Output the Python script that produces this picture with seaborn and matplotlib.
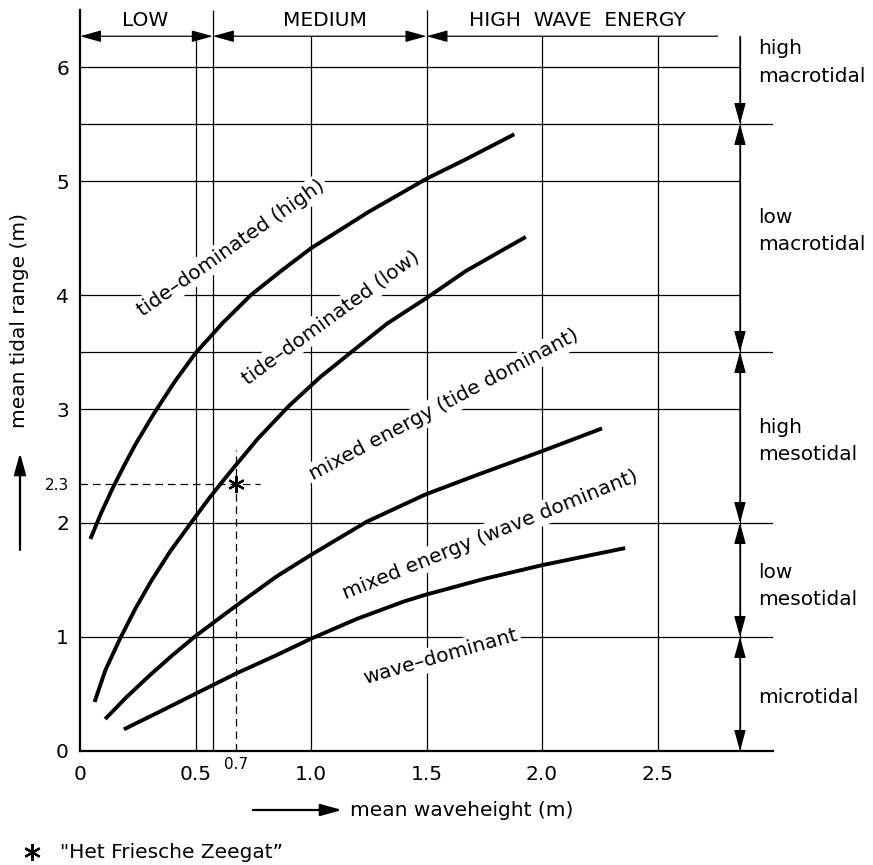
import matplotlib
matplotlib.use("Agg")
import matplotlib.pyplot as plt
import numpy as np
import pandas as pd
import seaborn as sns

# ---------------- data ----------------
td_high_x = [0.045, 0.09, 0.14, 0.19, 0.24, 0.32, 0.41, 0.50, 0.62, 0.74, 0.87, 1.00, 1.25, 1.50, 1.67, 1.88]
td_high_y = [1.86, 2.08, 2.30, 2.50, 2.69, 2.96, 3.24, 3.49, 3.76, 4.00, 4.21, 4.41, 4.73, 5.02, 5.19, 5.41]

td_low_x = [0.063, 0.11, 0.172, 0.24, 0.308, 0.39, 0.48, 0.56, 0.643, 0.77, 0.906, 1.04, 1.175, 1.33, 1.505, 1.67, 1.93]
td_low_y = [0.43, 0.71, 0.98, 1.25, 1.49, 1.75, 2.00, 2.22, 2.43, 2.74, 3.03, 3.28, 3.50, 3.75, 3.98, 4.21, 4.51]

mixed_x = [0.109, 0.20, 0.30, 0.40, 0.495, 0.60, 0.70, 0.85, 1.00, 1.24, 1.495, 1.73, 2.00, 2.26]
mixed_y = [0.28, 0.47, 0.66, 0.84, 1.00, 1.16, 1.31, 1.53, 1.72, 2.01, 2.25, 2.43, 2.63, 2.83]

wave_x = [0.19, 0.35, 0.498, 0.676, 0.85, 1.00, 1.20, 1.40, 1.495, 1.75, 2.00, 2.36]
wave_y = [0.19, 0.35, 0.50, 0.68, 0.84, 0.985, 1.16, 1.31, 1.37, 1.51, 1.63, 1.78]

curve_names = ["td_high", "td_low", "mixed", "wave"]

# region labels: text, centre x, centre y, angle
region_texts = ["tide\u2013dominated (high)", "tide\u2013dominated (low)",
                "mixed energy (tide dominant)", "mixed energy (wave dominant)",
                "wave\u2013dominant"]
region_x = [0.655, 1.087, 1.577, 1.774, 1.56]
region_y = [4.415, 3.805, 3.035, 1.90, 0.825]
region_angle = [35, 36, 28, 22, 16]

# wave-energy classes (top)
energy_bounds = [0.0, 0.575, 1.5, 2.76]
energy_labels = ["LOW", "MEDIUM", "HIGH  WAVE  ENERGY"]
energy_label_x = [0.28, 1.06, 2.154]

# tidal classes (right)
tidal_bounds = [0.0, 1.0, 2.0, 3.5, 5.5, 6.27]
tidal_labels = ["microtidal", "low\nmesotidal", "high\nmesotidal", "low\nmacrotidal", "high\nmacrotidal"]
tidal_label_y = [0.47, 1.45, 2.72, 4.56, 6.04]

# Het Friesche Zeegat
star_x = 0.676
star_y = 2.34
star_x_label = "0.7"
star_y_label = "2.3"

x_ticks = [0, 0.5, 1.0, 1.5, 2.0, 2.5]
x_tick_labels = ["0", "0.5", "1.0", "1.5", "2.0", "2.5"]
y_ticks = [0, 1, 2, 3, 4, 5, 6]
y_tick_labels = ["0", "1", "2", "3", "4", "5", "6"]
plain_grid_x = [0.5, 1.0, 2.0, 2.5]
plain_grid_y = [3, 4, 5, 6]

# ---------------- figure ----------------
sns.set_theme(style="white")
plt.rcParams["font.family"] = ["DejaVu Sans"]
plt.rcParams["text.color"] = "black"

FS = 14.5
W, H = 873, 865
fig = plt.figure(figsize=(W / 100, H / 100), dpi=100)
ax = fig.add_axes([80 / W, 114 / H, 693 / W, 741 / H])
ax.set_xlim(0, 3.0)
ax.set_ylim(0, 6.5)

top_line_y = tidal_bounds[-1]
col_x = 2.857
grid_lw = 0.9
k = "black"

# grid lines
ax.vlines(plain_grid_x, 0, top_line_y, color=k, lw=grid_lw, zorder=1)
ax.vlines(energy_bounds[1:3], 0, 6.5, color=k, lw=grid_lw, zorder=1)
ax.hlines(plain_grid_y, 0, col_x, color=k, lw=grid_lw, zorder=1)
ax.hlines(tidal_bounds[1:5], 0, 3.0, color=k, lw=grid_lw, zorder=1)
ax.vlines([col_x], 0, top_line_y, color=k, lw=grid_lw, zorder=1)

arrow_kw = dict(arrowstyle="<|-|>,head_length=1.3,head_width=0.36", mutation_scale=10,
                color=k, lw=grid_lw, shrinkA=0, shrinkB=0)
single_kw = dict(arrowstyle="-|>,head_length=1.3,head_width=0.36", mutation_scale=10,
                 color=k, lw=grid_lw, shrinkA=0, shrinkB=0)

# top energy arrows
for i in range(2):
    ax.annotate("", xy=(energy_bounds[i], top_line_y), xytext=(energy_bounds[i + 1], top_line_y),
                arrowprops=arrow_kw, zorder=2)
ax.annotate("", xy=(energy_bounds[2], top_line_y), xytext=(energy_bounds[3], top_line_y),
            arrowprops=single_kw, zorder=2)
for lab, lx in zip(energy_labels, energy_label_x):
    ax.text(lx, 6.41, lab, ha="center", va="center", fontsize=FS, clip_on=False)

# right tidal arrows
for i in range(4):
    ax.annotate("", xy=(col_x, tidal_bounds[i]), xytext=(col_x, tidal_bounds[i + 1]),
                arrowprops=arrow_kw, zorder=2)
ax.annotate("", xy=(col_x, tidal_bounds[4]), xytext=(col_x, tidal_bounds[5]),
            arrowprops=single_kw, zorder=2)
for lab, ly in zip(tidal_labels, tidal_label_y):
    ax.text(2.935, ly, lab, ha="left", va="center", fontsize=FS, linespacing=1.55, clip_on=False)

# curves
df = pd.concat([
    pd.DataFrame({"x": xs, "y": ys, "curve": n})
    for n, xs, ys in zip(curve_names,
                         [td_high_x, td_low_x, mixed_x, wave_x],
                         [td_high_y, td_low_y, mixed_y, wave_y])
])
sns.lineplot(data=df, x="x", y="y", hue="curve", palette=[k] * 4, estimator=None,
             sort=False, linewidth=2.8, legend=False, ax=ax, zorder=5)
for line in ax.lines:
    line.set_solid_capstyle("butt")
    line.set_solid_joinstyle("round")

# region labels
for t, tx, ty, ang in zip(region_texts, region_x, region_y, region_angle):
    ax.text(tx, ty, t, rotation=ang, rotation_mode="anchor", ha="center", va="center",
            fontsize=FS, zorder=3,
            bbox=dict(facecolor="white", edgecolor="none", pad=2))

# Het Friesche Zeegat marker and dashed guides
ax.plot([0, 0.78], [star_y, star_y], color=k, lw=grid_lw, ls=(0, (6, 4)), zorder=2)
ax.plot([star_x, star_x], [0, 2.64], color=k, lw=grid_lw, ls=(0, (6, 4)), zorder=2)
ax.plot([star_x], [star_y], marker=(6, 2, 0), markersize=12, mew=1.6, color=k, zorder=6)

# axes styling
for s in ["top", "right"]:
    ax.spines[s].set_visible(False)
for s in ["left", "bottom"]:
    ax.spines[s].set_color(k)
    ax.spines[s].set_linewidth(1.6)

ax.set_xticks(x_ticks)
ax.set_xticklabels(x_tick_labels)
ax.set_yticks(y_ticks)
ax.set_yticklabels(y_tick_labels)
ax.set_xticks([star_x], minor=True)
ax.set_xticklabels([star_x_label], minor=True)
ax.set_yticks([star_y], minor=True)
ax.set_yticklabels([star_y_label], minor=True)
ax.tick_params(axis="x", which="major", length=0, pad=10, labelsize=FS, colors=k)
ax.tick_params(axis="x", which="minor", length=0, pad=4, labelsize=11, colors=k)
ax.tick_params(axis="y", which="major", length=0, pad=8, labelsize=FS, colors=k)
ax.tick_params(axis="y", which="minor", length=0, pad=8, labelsize=11, colors=k)
ax.set_xlabel("")
ax.set_ylabel("")

# axis titles with arrows
def fx(px):
    return px / W

def fy(py):
    return 1 - py / H

lab_kw = dict(arrowstyle="-|>,head_length=1.3,head_width=0.36", mutation_scale=10,
              color=k, lw=1.6, shrinkA=0, shrinkB=0)
ax.annotate("", xy=(fx(20), fy(453)), xytext=(fx(20), fy(550)), xycoords="figure fraction",
            textcoords="figure fraction", arrowprops=lab_kw, annotation_clip=False)
fig.text(fx(20), fy(320), "mean tidal range (m)", rotation=90, ha="center", va="center", fontsize=FS)
ax.annotate("", xy=(fx(342), fy(810)), xytext=(fx(253), fy(810)), xycoords="figure fraction",
            textcoords="figure fraction", arrowprops=lab_kw, annotation_clip=False)
fig.text(fx(350), fy(810), "mean waveheight (m)", ha="left", va="center", fontsize=FS)

# footnote
ax.plot([fx(32)], [fy(852)], transform=fig.transFigure, marker=(6, 2, 0), markersize=12,
        mew=1.6, color=k, clip_on=False)
fig.text(fx(60), fy(852), "\"Het Friesche Zeegat\u201d", ha="left", va="center", fontsize=FS)

fig.savefig("out.png", dpi=100, facecolor="white")
